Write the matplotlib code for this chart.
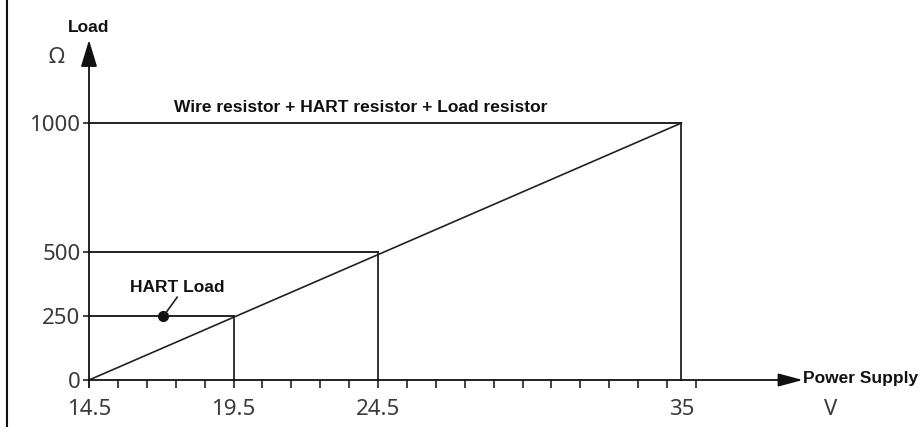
import numpy as np
import matplotlib
matplotlib.use("Agg")
import matplotlib.pyplot as plt
from matplotlib.lines import Line2D

# ---------------------- Data ---------------------- #
v_min = 14.5
v_max = 35
supply_v = [19.5, 24.5, 35]          # operating points (V)
load_ohm = [250, 500, 1000]          # max load at those points (Ohm)
xtick_vals = [14.5, 19.5, 24.5, 35]
xtick_labels = ["14.5", "19.5", "24.5", "35"]
ytick_vals = [0, 250, 500, 1000]
ytick_labels = ["0", "250", "500", "1000"]
minor_x = np.arange(14.5, 36.0, 1.0)
hart_point = (17.05, 250)

line_col = "#222222"
lbl_col = "#3a3a3a"
bold_font = "Liberation Sans"
num_font = "Noto Sans"

# ---------------------- Figure ---------------------- #
fig = plt.figure(figsize=(9.23, 4.32), dpi=100)
ax = fig.add_axes([0, 0, 1, 1])
px_per_v = 28.9
px_per_ohm = 0.257
ax.set_xlim(v_min - 89 / px_per_v, v_min + (923 - 89) / px_per_v)
ax.set_ylim(-(432 - 380) / px_per_ohm, 380 / px_per_ohm)
ax.axis("off")

# axes with arrow heads
ax.annotate("", xy=(39.2, 0), xytext=(v_min, 0),
            arrowprops=dict(arrowstyle="-|>,head_length=1.5,head_width=0.4", mutation_scale=10,
                            color="#111111", lw=1.3, shrinkA=0, shrinkB=0))
ax.annotate("", xy=(v_min, 1323), xytext=(v_min, 0),
            arrowprops=dict(arrowstyle="-|>,head_length=1.65,head_width=0.5", mutation_scale=10,
                            color="#111111", lw=1.3, shrinkA=0, shrinkB=0))

# tick marks and labels on the drawn axes
ax.vlines(minor_x, -30, 0, color=line_col, lw=1.2)
ax.vlines(v_min, -30, 0, color=line_col, lw=1.3)
ax.hlines(ytick_vals, v_min - 0.22, v_min, color=line_col, lw=1.2)
for v, lab in zip(xtick_vals, xtick_labels):
    ax.text(v, -116, lab, ha="center", va="center", fontsize=16, family=num_font, color=lbl_col)
for r, lab in zip(ytick_vals, ytick_labels):
    ax.text(v_min - 0.3, r - 10, lab, ha="right", va="center", fontsize=16, family=num_font, color=lbl_col)

# guide lines
for v, r in zip(supply_v, load_ohm):
    ax.plot([v_min, v], [r, r], color=line_col, lw=1.4)
    ax.plot([v, v], [0, r], color=line_col, lw=1.3)

# load line
ax.plot([v_min, v_max], [0, load_ohm[-1]], color=line_col, lw=1.2)

# HART marker
ax.plot(*hart_point, marker="o", ms=7, color="#111111")
ax.plot([hart_point[0] + 0.1, 17.55], [hart_point[1] + 10, 322], color=line_col, lw=1.2)

# texts
ax.text(17.44, 1060, "Wire resistor + HART resistor + Load resistor", ha="left", va="center",
        fontsize=12.5, fontweight="bold", family=bold_font, color="#111111")
ax.text(17.55, 360, "HART Load", ha="center", va="center",
        fontsize=12.5, fontweight="bold", family=bold_font, color="#111111")
ax.text(39.2, 6, "Power Supply", ha="left", va="center",
        fontsize=12.5, fontweight="bold", family=bold_font, color="#111111")
ax.text(v_min, 1370, "Load", ha="center", va="center",
        fontsize=12.5, fontweight="bold", family=bold_font, color="#111111")
ax.text(13.39, 1255, "Ω", ha="center", va="center", fontsize=16, family=num_font, color=lbl_col)
ax.text(40.15, -116, "V", ha="center", va="center", fontsize=16, family=num_font, color=lbl_col)

# left border line
fig.add_artist(Line2D([0.0076, 0.0076], [0.015, 1.0], color="#111111", lw=1.5))

fig.savefig("out.png", dpi=100)
